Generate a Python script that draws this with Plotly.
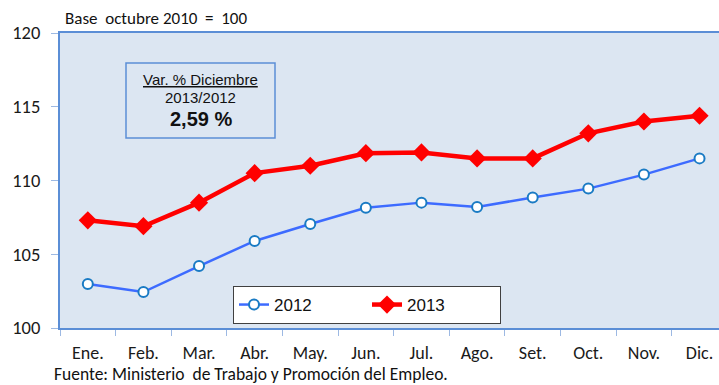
import plotly.graph_objects as go

months = ["Ene.", "Feb.", "Mar.", "Abr.", "May.", "Jun.", "Jul.", "Ago.", "Set.", "Oct.", "Nov.", "Dic."]
idx_2012 = [102.98, 102.44, 104.2, 105.9, 107.05, 108.15, 108.5, 108.2, 108.85, 109.45, 110.4, 111.5]
idx_2013 = [107.3, 106.9, 108.5, 110.5, 111.0, 111.85, 111.9, 111.5, 111.5, 113.2, 114.0, 114.39]
y_ticks = [100, 105, 110, 115, 120]

axis_blue = "#5B8ED6"
tick_blue = "#9DB9E3"
calibri_like = "Carlito, Lato, Calibri, sans-serif"
arial_like = "Liberation Sans, Arial, sans-serif"

fig = go.Figure()
fig.add_trace(go.Scatter(
    x=months, y=idx_2012, name="2012", mode="lines+markers",
    line=dict(color="#3D6BFF", width=2.5),
    marker=dict(symbol="circle", size=10, color="white",
                line=dict(color="#1A7BC4", width=2)),
))
fig.add_trace(go.Scatter(
    x=months, y=idx_2013, name="2013", mode="lines+markers",
    line=dict(color="#FF0000", width=4.5),
    marker=dict(symbol="diamond", size=14, color="#FF0000"),
))

fig.update_layout(
    width=719, height=385,
    margin=dict(l=60, r=0, t=33, b=57),
    paper_bgcolor="white",
    plot_bgcolor="#DCE6F2",
    font=dict(family=calibri_like, color="#1a1a1a"),
    showlegend=True,
    legend=dict(
        orientation="h", x=(367 - 60) / 659, y=(328 - 305) / 295, xanchor="center", yanchor="middle",
        bgcolor="white", bordercolor="#404040", borderwidth=1,
        font=dict(family=arial_like, size=17, color="#111"),
        entrywidth=88, entrywidthmode="pixels",
        itemclick=False, itemdoubleclick=False,
    ),
    xaxis=dict(
        type="category", range=[-0.5, 11.35],
        showline=True, linecolor=axis_blue, linewidth=2, mirror=True,
        ticks="outside", tickson="boundaries", ticklen=6, tickcolor=tick_blue, tickwidth=1,
        ticklabelstandoff=7,
        showgrid=False, zeroline=False,
        tickfont=dict(size=18, family=calibri_like, color="#1a1a1a", weight=400),
        fixedrange=True,
    ),
    yaxis=dict(
        range=[100, 120], tickvals=y_ticks,
        showline=True, linecolor=axis_blue, linewidth=2, mirror=False,
        ticks="outside", ticklen=7, tickcolor=tick_blue, tickwidth=1,
        ticklabelstandoff=7,
        showgrid=False, zeroline=False,
        tickfont=dict(size=18.5, family=calibri_like, color="#1a1a1a", weight=400),
        fixedrange=True,
    ),
)

# header note and source line
fig.add_annotation(text="Base&nbsp; octubre 2010&nbsp; =&nbsp; 100", xref="paper", yref="paper",
                   x=(63 - 60) / 659, y=1.0, xanchor="left", yanchor="bottom", yshift=2,
                   showarrow=False, font=dict(size=17, family=calibri_like, color="#111", weight=400))
fig.add_annotation(text="Fuente: Ministerio&nbsp; de Trabajo y Promoción del Empleo.", xref="paper", yref="paper",
                   x=(52 - 60) / 659, y=0, xanchor="left", yanchor="bottom", yshift=-59,
                   showarrow=False, font=dict(size=17.5, family=calibri_like, color="#111", weight=400))

# variation box
fig.add_shape(type="rect", xref="paper", yref="paper",
              x0=(126 - 60) / 659, x1=(275 - 60) / 659,
              y0=(328 - 138) / 295, y1=(328 - 63) / 295,
              line=dict(color="#5B8ED6", width=1.5), fillcolor="rgba(0,0,0,0)")
box_cx = (200.5 - 60) / 659
fig.add_annotation(text="<u>Var. % Diciembre</u>", xref="paper", yref="paper",
                   x=box_cx, y=(328 - 79) / 295, xanchor="center", yanchor="middle", showarrow=False,
                   font=dict(size=15, family=arial_like, color="#111"))
fig.add_annotation(text="2013/2012", xref="paper", yref="paper",
                   x=box_cx, y=(328 - 97) / 295, xanchor="center", yanchor="middle", showarrow=False,
                   font=dict(size=15, family=arial_like, color="#111"))
fig.add_annotation(text="<b>2,59 %</b>", xref="paper", yref="paper",
                   x=box_cx, y=(328 - 119) / 295, xanchor="center", yanchor="middle", showarrow=False,
                   font=dict(size=20, family=arial_like, color="#111"))

fig.write_html("out.html", config={"displayModeBar": False})
